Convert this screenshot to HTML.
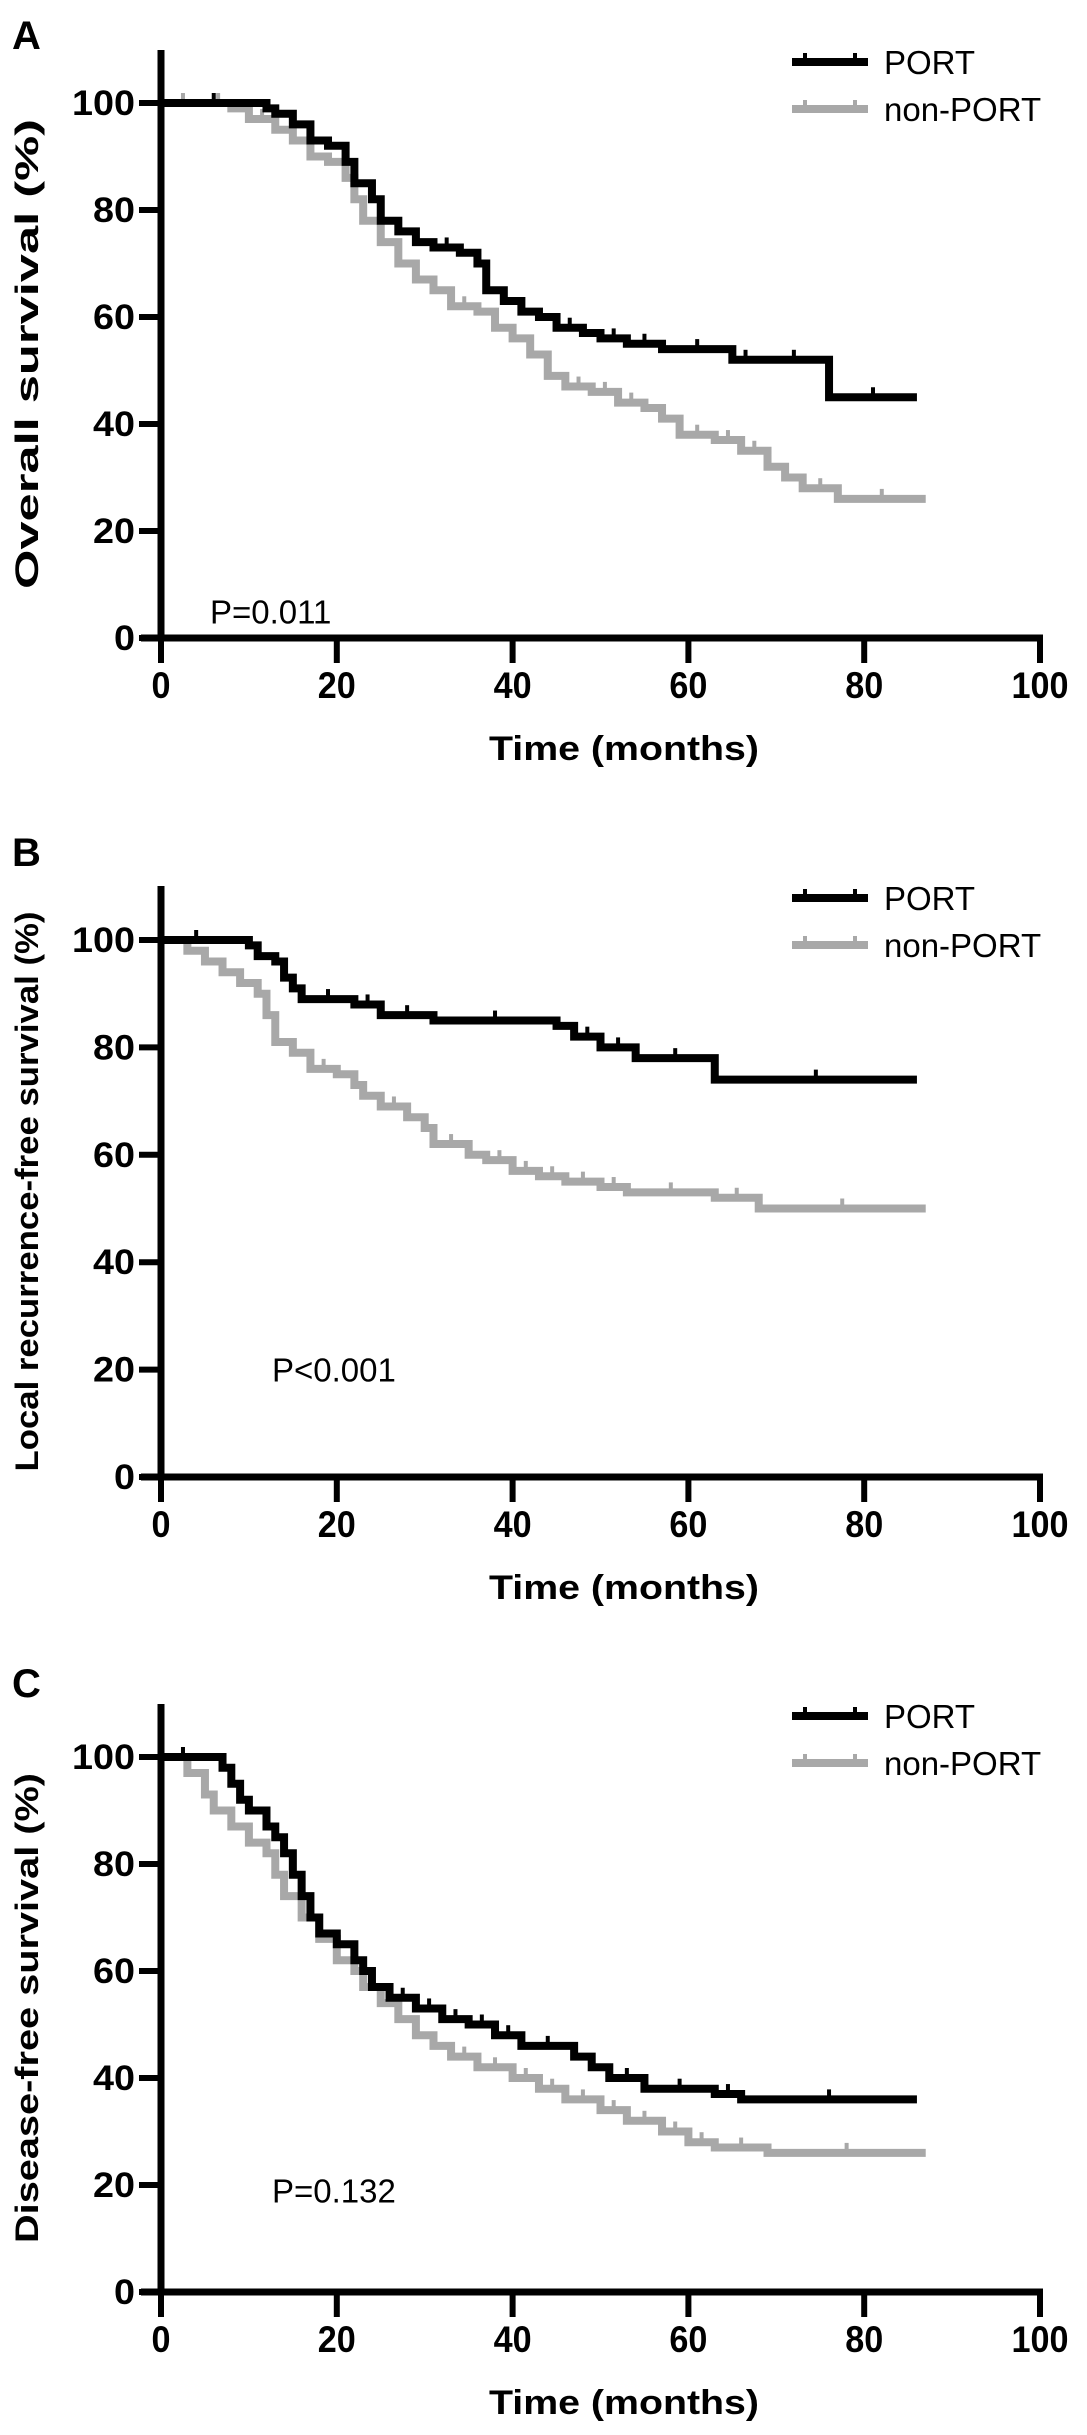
<!DOCTYPE html>
<html><head><meta charset="utf-8"><style>
html,body{margin:0;padding:0;background:#fff}
svg{display:block}
text{font-family:"Liberation Sans",Arial,sans-serif}
</style></head><body>
<svg id="fig" width="1087" height="2435" viewBox="0 0 1087 2435" xmlns="http://www.w3.org/2000/svg"></svg>
<script>
const xTicks=[0,20,40,60,80,100];
const yTicks=[0,20,40,60,80,100];
const seriesNames=["PORT","non-PORT"];
const panelLetters=["A","B","C"];
const yTitles=["Overall survival (%)","Local recurrence-free  survival (%)","Disease-free survival (%)"];
const pLabels=["P=0.011","P<0.001","P=0.132"];
const pValuePos=[5,20,19];
const aPortT=[0,12,13,15,17,19,21,22,24,25,27,29,31,34,36,37,39,41,43,45,48,50,53,57,65,68,76,86];
const aPortV=[100,99,98,96,93,92,89,85,82,78,76,74,73,72,70,65,63,61,60,58,57,56,55,54,52,52,45,45];
const aNonT=[0,5,8,10,13,15,17,19,21,22,23,25,27,29,31,33,36,38,40,42,44,46,49,52,55,57,59,63,66,69,71,73,77,87];
const aNonV=[100,100,99,97,95,93,90,89,86,82,78,74,70,67,65,62,61,58,56,53,49,47,46,44,43,41,38,37,35,32,30,28,26,26];
const bPortT=[0,8,10,11,13,14,15,16,22,25,31,45,47,50,54,63,86];
const bPortV=[100,100,99,97,96,93,91,89,88,86,85,84,82,80,78,74,74];
const bNonT=[0,2,3,5,7,9,11,12,13,15,17,20,22,23,25,28,30,31,35,37,40,43,46,50,53,63,68,87];
const bNonV=[100,100,98,96,94,92,90,86,81,79,76,75,73,71,69,67,65,62,60,59,57,56,55,54,53,52,50,50];
const cPortT=[0,5,7,8,9,10,12,13,14,15,16,17,18,20,22,23,24,26,29,32,35,38,41,47,49,51,55,63,66,86];
const cPortV=[100,100,98,95,92,90,87,85,82,78,74,70,67,65,62,60,57,55,53,51,50,48,46,44,42,40,38,37,36,36];
const cNonT=[0,1,3,5,6,8,10,12,13,14,16,18,20,22,23,25,27,29,31,33,36,40,43,46,50,53,57,60,63,69,87];
const cNonV=[100,100,97,93,90,87,84,82,78,74,70,66,62,60,57,54,51,48,46,44,42,40,38,36,34,32,30,28,27,26,26];
const panelT=[[aPortT,aNonT],[bPortT,bNonT],[cPortT,cNonT]];
const panelV=[[aPortV,aNonV],[bPortV,bNonV],[cPortV,cNonV]];

const NS="http://www.w3.org/2000/svg";
const svg=document.getElementById('fig');
const panels=[{y0:638,y100:103,top:50,lab:35},{y0:1477,y100:940,top:886,lab:852},{y0:2292,y100:1757,top:1704,lab:1683}];
const X0=161,X100=1040;
const colors=["#000","#a8a8a8"];
function mk(tag,attrs,parent){const e=document.createElementNS(NS,tag);for(const k in attrs)e.setAttribute(k,attrs[k]);(parent||svg).appendChild(e);return e;}
function xs(t){return X0+(X100-X0)*t/100;}
panels.forEach((p,i)=>{
  const ys=v=>p.y0+(p.y100-p.y0)*v/100;
  const g=mk('g',{});
  
  
  const lt=mk('text',{x:12,y:p.lab+14,'font-size':40,'font-weight':'bold'},g);lt.textContent=panelLetters[i];
  
  const ya=mk('line',{x1:X0,y1:p.top,x2:X0,y2:p.y0+3,stroke:'#000','stroke-width':7},g);
  
  const xa=mk('line',{x1:X0-20,y1:p.y0,x2:X100+3,y2:p.y0,stroke:'#000','stroke-width':7},g);
  
  yTicks.forEach(v=>{
    const tk=mk('line',{x1:X0-22,y1:ys(v),x2:X0,y2:ys(v),stroke:'#000','stroke-width':6},g);
    
    const s=String(v);
    const tx=mk('text',{x:X0-26,y:ys(v)+12,'font-size':35,'font-weight':'bold','text-anchor':'end',textLength:s.length*21,lengthAdjust:'spacingAndGlyphs'},g);
    tx.textContent=s;
  });
  xTicks.forEach(v=>{
    const tk=mk('line',{x1:xs(v),y1:p.y0,x2:xs(v),y2:p.y0+25,stroke:'#000','stroke-width':6},g);
    
    const s=String(v);
    const tx=mk('text',{x:xs(v),y:p.y0+60,'font-size':37,'font-weight':'bold','text-anchor':'middle',textLength:s.length*19,lengthAdjust:'spacingAndGlyphs'},g);
    tx.textContent=s;
  });
  const xt=mk('text',{x:624,y:p.y0+122,'font-size':34,'font-weight':'bold','text-anchor':'middle',textLength:270,lengthAdjust:'spacingAndGlyphs'},g);
  xt.textContent='Time (months)';
  const cy=(p.top+p.y0)/2+10;
  const yt=mk('text',{x:0,y:0,'font-size':32,'font-weight':'bold','text-anchor':'middle',transform:`translate(38,${cy}) rotate(-90)`,textLength:i==1?560:470,lengthAdjust:'spacingAndGlyphs'},g);
  yt.textContent=yTitles[i];
  const pt=mk('text',{x:i==0?210:272,y:ys(pValuePos[i])+12,'font-size':33,'text-anchor':'start'},g);
  pt.textContent=pLabels[i];
  [1,0].forEach(s=>{
    const T=panelT[i][s],V=panelV[i][s];
    let d='M'+xs(T[0])+','+ys(V[0]);
    for(let k=1;k<T.length;k++){d+=' H'+xs(T[k])+' V'+ys(V[k]);}
    const path=mk('path',{d:d,fill:'none',stroke:colors[s],'stroke-width':8,'stroke-linejoin':'miter'},g);
    
    
    for(let k=1;k<T.length;k++){
      const mid=(T[k-1]+T[k])/2;
      if(T[k]-T[k-1]>=3){
        const c=mk('line',{x1:xs(mid),y1:ys(V[k-1])-10,x2:xs(mid),y2:ys(V[k-1]),stroke:colors[s],'stroke-width':4},g);
        
      }
    }
  });
  const ly=[p.top+12,p.top+59];
  seriesNames.forEach((n,s)=>{
    const ll=mk('line',{x1:792,y1:ly[s],x2:868,y2:ly[s],stroke:colors[s],'stroke-width':8},g);
    
    const c1=mk('line',{x1:805,y1:ly[s]-9,x2:805,y2:ly[s],stroke:colors[s],'stroke-width':4},g);
    
    const c2=mk('line',{x1:855,y1:ly[s]-9,x2:855,y2:ly[s],stroke:colors[s],'stroke-width':4},g);
    
    const lt2=mk('text',{x:884,y:ly[s]+12,'font-size':33},g);
    lt2.textContent=n;
  });
});
</script>
</body></html>
